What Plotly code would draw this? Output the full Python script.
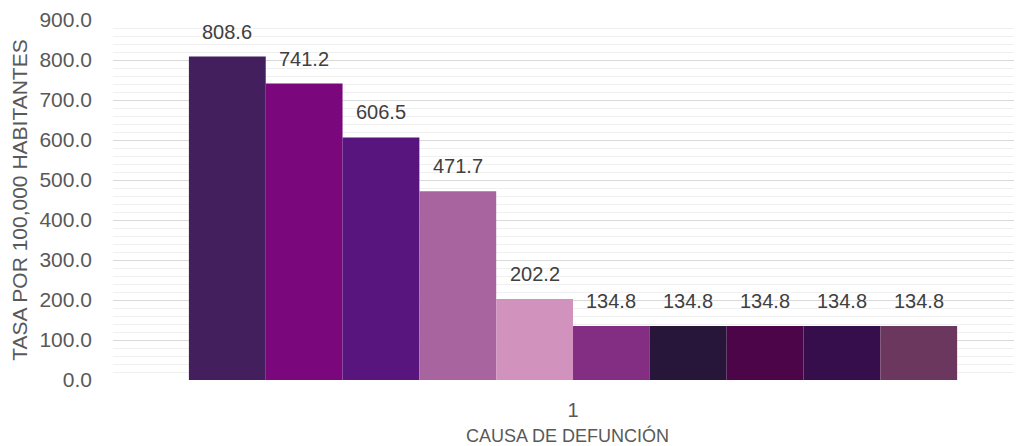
import plotly.graph_objects as go

categories = ["1"]
series_names = [f"Causa {i}" for i in range(1, 11)]
values = [808.6, 741.2, 606.5, 471.7, 202.2, 134.8, 134.8, 134.8, 134.8, 134.8]
colors = ["#43205D", "#7B077D", "#57157D", "#A8649E", "#D292BE",
          "#832E83", "#27153A", "#4C0549", "#370E4C", "#6B375F"]
y_ticks = [0, 100, 200, 300, 400, 500, 600, 700, 800, 900]

BARGAP = 0.165
FONT = "Liberation Sans, Arial, sans-serif"

fig = go.Figure()
for name, v, c in zip(series_names, values, colors):
    fig.add_trace(go.Bar(
        x=categories, y=[v], name=name,
        marker=dict(color=c, line=dict(width=0)),
        hoverinfo="y+name",
    ))

# data labels above each bar (placed on the grouped-bar positions of category 0)
n = len(values)
group_w = 1 - BARGAP
bar_w = group_w / n
for i, v in enumerate(values):
    fig.add_annotation(
        x=-group_w / 2 + bar_w * (i + 0.5), y=v, xref="x", yref="y",
        text=f"{v:.1f}", showarrow=False, yanchor="bottom", yshift=12,
        font=dict(family=FONT, size=20, color="#404040"),
    )

# the html page body has an 8px margin, so the figure is offset by 8px
fig.update_layout(
    width=1014, height=438,
    margin=dict(l=105, r=0, t=12, b=66),
    paper_bgcolor="white", plot_bgcolor="white",
    barmode="group", bargap=BARGAP, bargroupgap=0,
    showlegend=False,
    font=dict(family=FONT, color="#595959"),
)
fig.update_xaxes(
    type="category", range=[-0.5, 0.488], automargin=False,
    showgrid=False, zeroline=False, showline=False,
    tickfont=dict(size=20, color="#595959"), ticks="", ticklabelstandoff=16,
    title=dict(text="CAUSA DE DEFUNCIÓN", standoff=10,
               font=dict(family=FONT, size=18, color="#595959")),
)
fig.update_yaxes(
    range=[0, 900], tickvals=y_ticks, tickformat=".1f", automargin=False,
    showgrid=True, gridcolor="#D9D9D9", gridwidth=1,
    minor=dict(dtick=20, showgrid=True, gridcolor="#F0F0F0", gridwidth=1),
    zeroline=False, showline=False, ticks="",
    ticklabelstandoff=20,
    tickfont=dict(size=21, color="#595959"),
    title=dict(text="TASA POR 100,000 HABITANTES", standoff=8,
               font=dict(family=FONT, size=21, color="#595959")),
)

fig.write_html("out.html")
